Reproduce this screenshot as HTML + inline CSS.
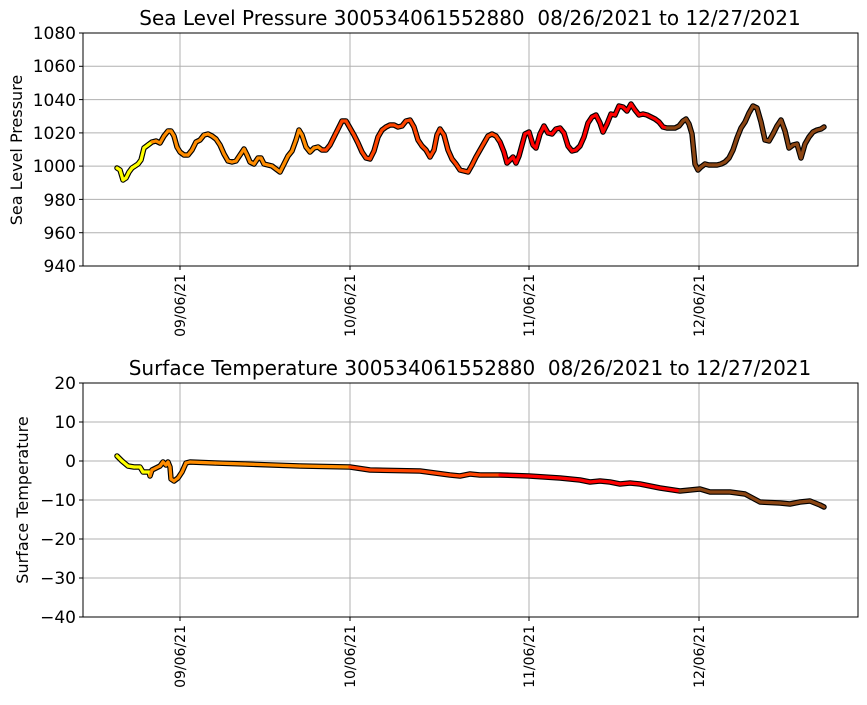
<!DOCTYPE html><html><head><style>body{margin:0;background:#fff}svg{font-family:"DejaVu Sans","Liberation Sans",sans-serif}</style></head><body>
<svg id="s" width="867" height="700" xmlns="http://www.w3.org/2000/svg">
<rect width="867" height="700" fill="#fff"/>
<g stroke="#b0b0b0" stroke-width="1">
<line x1="83" x2="858" y1="66.3" y2="66.3"/><line x1="83" x2="858" y1="99.6" y2="99.6"/><line x1="83" x2="858" y1="132.9" y2="132.9"/><line x1="83" x2="858" y1="166.1" y2="166.1"/><line x1="83" x2="858" y1="199.4" y2="199.4"/><line x1="83" x2="858" y1="232.7" y2="232.7"/>
<line y1="33" y2="266" x1="180" x2="180"/><line y1="33" y2="266" x1="350" x2="350"/><line y1="33" y2="266" x1="529" x2="529"/><line y1="33" y2="266" x1="699" x2="699"/>
<line x1="83" x2="858" y1="422" y2="422"/><line x1="83" x2="858" y1="461" y2="461"/><line x1="83" x2="858" y1="500" y2="500"/><line x1="83" x2="858" y1="539" y2="539"/><line x1="83" x2="858" y1="578" y2="578"/>
<line y1="383" y2="617" x1="180" x2="180"/><line y1="383" y2="617" x1="350" x2="350"/><line y1="383" y2="617" x1="529" x2="529"/><line y1="383" y2="617" x1="699" x2="699"/>
</g>
<g id="data"></g>
<rect x="83" y="33" width="775" height="233" fill="none" stroke="#000"/>
<rect x="83" y="383" width="775" height="234" fill="none" stroke="#000"/>
<g font-size="17" text-anchor="end" fill="#000">
<text x="76" y="39">1080</text><text x="76" y="72">1060</text><text x="76" y="106">1040</text><text x="76" y="139">1020</text><text x="76" y="172">1000</text><text x="76" y="206">980</text><text x="76" y="239">960</text><text x="76" y="272">940</text>
<text x="76" y="389">20</text><text x="76" y="428">10</text><text x="76" y="467">0</text><text x="76" y="506">−10</text><text x="76" y="545">−20</text><text x="76" y="584">−30</text><text x="76" y="623">−40</text>
</g>
<g stroke="#000"><line x1="79" x2="83" y1="33" y2="33"/><line x1="79" x2="83" y1="66.3" y2="66.3"/><line x1="79" x2="83" y1="99.6" y2="99.6"/><line x1="79" x2="83" y1="132.9" y2="132.9"/><line x1="79" x2="83" y1="166.1" y2="166.1"/><line x1="79" x2="83" y1="199.4" y2="199.4"/><line x1="79" x2="83" y1="232.7" y2="232.7"/><line x1="79" x2="83" y1="266" y2="266"/>
<line x1="79" x2="83" y1="383" y2="383"/><line x1="79" x2="83" y1="422" y2="422"/><line x1="79" x2="83" y1="461" y2="461"/><line x1="79" x2="83" y1="500" y2="500"/><line x1="79" x2="83" y1="539" y2="539"/><line x1="79" x2="83" y1="578" y2="578"/><line x1="79" x2="83" y1="617" y2="617"/>
<line x1="180" x2="180" y1="266" y2="270"/><line x1="350" x2="350" y1="266" y2="270"/><line x1="529" x2="529" y1="266" y2="270"/><line x1="699" x2="699" y1="266" y2="270"/>
<line x1="180" x2="180" y1="617" y2="621"/><line x1="350" x2="350" y1="617" y2="621"/><line x1="529" x2="529" y1="617" y2="621"/><line x1="699" x2="699" y1="617" y2="621"/></g>
<g font-size="14" text-anchor="end">
<text transform="translate(185,274) rotate(-90)">09/06/21</text><text transform="translate(355,274) rotate(-90)">10/06/21</text><text transform="translate(534,274) rotate(-90)">11/06/21</text><text transform="translate(704,274) rotate(-90)">12/06/21</text>
<text transform="translate(185,625) rotate(-90)">09/06/21</text><text transform="translate(355,625) rotate(-90)">10/06/21</text><text transform="translate(534,625) rotate(-90)">11/06/21</text><text transform="translate(704,625) rotate(-90)">12/06/21</text>
</g>
<text x="470" y="25" font-size="20" text-anchor="middle" xml:space="preserve">Sea Level Pressure 300534061552880  08/26/2021 to 12/27/2021</text>
<text x="470" y="375" font-size="20" text-anchor="middle" xml:space="preserve">Surface Temperature 300534061552880  08/26/2021 to 12/27/2021</text>
<text transform="translate(22,150) rotate(-90)" font-size="16" text-anchor="middle">Sea Level Pressure</text>
<text transform="translate(28,500) rotate(-90)" font-size="16" text-anchor="middle">Surface Temperature</text>
</svg>
<script>
var slp=[[117,168],[120,170],[123,180],[126,178],[129,172],[132,168],[135,166],[138,164],[141,160],[144,148],[148,145],[152,142],[156,141],[160,143],[164,136],[168,131],[171,131],[174,136],[177,147],[180,152],[184,155],[188,155],[192,150],[196,142],[200,140],[204,135],[208,134],[212,136],[216,139],[220,145],[224,154],[228,161],[232,162],[236,161],[240,155],[244,149],[247,155],[250,162],[254,164],[258,158],[261,158],[264,164],[268,165],[272,166],[276,169],[280,172],[284,164],[288,156],[292,151],[296,140],[299,130],[302,135],[306,147],[310,152],[314,148],[318,147],[322,150],[326,150],[330,145],[334,137],[338,129],[342,121],[346,121],[350,128],[354,135],[358,143],[362,152],[366,158],[370,159],[374,151],[378,137],[382,130],[386,127],[390,125],[394,125],[398,127],[402,126],[406,121],[410,120],[414,127],[418,140],[422,146],[426,150],[430,157],[434,150],[437,135],[440,129],[444,135],[448,150],[452,159],[456,164],[460,170],[464,171],[468,172],[472,165],[476,157],[480,150],[484,143],[488,136],[492,134],[496,136],[500,142],[504,152],[507,163],[510,160],[513,157],[516,163],[519,156],[522,145],[525,134],[529,132],[533,145],[536,148],[540,134],[544,126],[548,133],[552,134],[556,129],[560,128],[564,133],[568,146],[572,151],[576,150],[580,146],[584,137],[588,123],[592,117],[596,115],[600,123],[603,132],[607,124],[611,114],[615,115],[619,106],[623,107],[627,111],[631,104],[635,110],[639,115],[643,114],[647,115],[651,117],[655,119],[659,122],[663,127],[667,128],[671,128],[675,128],[679,126],[683,121],[686,119],[689,124],[692,134],[695,164],[698,170],[701,167],[705,164],[709,165],[713,165],[717,165],[721,164],[725,162],[729,158],[733,150],[737,138],[741,128],[745,122],[749,113],[753,106],[757,108],[761,122],[765,140],[769,141],[773,134],[777,126],[781,120],[785,131],[789,148],[793,145],[797,144],[801,158],[805,144],[809,137],[813,132],[817,130],[821,129],[824,127]];
var tmp=[[117,456],[122,461],[128,466],[134,467],[140,467],[143,472],[149,472],[150,476],[152,470],[156,468],[160,466],[163,462],[166,465],[168,462],[170,467],[171,479],[174,481],[178,478],[182,472],[186,463],[190,462],[215,463],[245,464],[300,466],[350,467],[370,470],[420,471],[450,475],[460,476],[470,474],[480,475],[500,475],[529,476],[560,478],[580,480],[590,482],[600,481],[610,482],[620,484],[630,483],[640,484],[660,488],[680,491],[690,490],[700,489],[710,492],[730,492],[745,494],[760,502],[780,503],[790,504],[800,502],[810,501],[820,505],[824,507]];
function col(x){return x<150?'#ffff00':x<322?'#ff8c00':x<500?'#ff4500':x<667?'#ff0000':'#8b4513';}
var g=document.getElementById('data'),h='';
[slp,tmp].forEach(function(d){
 var p=d.map(function(q){return q.join(',')}).join(' ');
 h+='<polyline points="'+p+'" fill="none" stroke="#000" stroke-width="5.5" stroke-linejoin="round" stroke-linecap="round"/>';
 for(var i=0;i<d.length-1;i++)h+='<line x1="'+d[i][0]+'" y1="'+d[i][1]+'" x2="'+d[i+1][0]+'" y2="'+d[i+1][1]+'" stroke="'+col(d[i][0])+'" stroke-width="3.2" stroke-linecap="round"/>';
});
g.innerHTML=h;
</script>
</body></html>
